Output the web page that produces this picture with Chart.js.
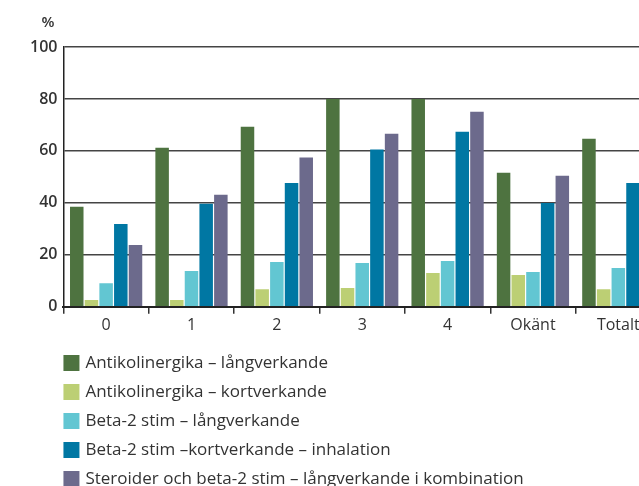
<!DOCTYPE html>
<html>
<head>
<meta charset="utf-8">
<script src="https://cdn.jsdelivr.net/npm/chart.js@4"></script>
<style>
html, body { margin:0; padding:0; background:#fff; overflow:hidden; }
#wrap { width:639px; height:486px; overflow:hidden; }
</style>
</head>
<body>
<div id="wrap"><canvas id="rel1" width="664" height="486"></canvas></div>
<script>
var categories = ['0', '1', '2', '3', '4', 'Okänt', 'Totalt'];
var series_names = [
  'Antikolinergika – långverkande',
  'Antikolinergika – kortverkande',
  'Beta-2 stim – långverkande',
  'Beta-2 stim –kortverkande – inhalation',
  'Steroider och beta-2 stim – långverkande i kombination'
];
var antikol_lang = [38.5, 61.2, 69.3, 80, 80, 51.6, 64.7];
var antikol_kort = [2.6, 2.6, 6.8, 7.2, 13.0, 12.2, 6.8];
var beta_lang = [9.1, 13.8, 17.2, 16.9, 17.6, 13.4, 14.9];
var beta_kort = [31.9, 39.7, 47.7, 60.5, 67.4, 40.0, 47.7];
var steroid_komb = [23.8, 43.1, 57.5, 66.6, 75.1, 50.4, 55];
var colors = ['#4e7340', '#bccf74', '#62c6d2', '#0077a3', '#6c6a8c'];
var y_max = 100;
var y_step = 20;
var unit_label = '%';

var font_family = '"Open Sans", "Noto Sans", sans-serif';
var text_color = '#333';

// "%" above the y axis and the legend as a plain vertical list under the chart
var listLegend = {
  id: 'listLegend',
  afterDraw: function(chart) {
    var ctx = chart.ctx;
    var x = chart.chartArea.left;
    var top = chart.scales.x.bottom + 26;
    ctx.save();
    ctx.textBaseline = 'middle';
    ctx.textAlign = 'left';
    ctx.fillStyle = text_color;
    ctx.font = '600 15px ' + font_family;
    ctx.fillText(unit_label, x - 22, chart.chartArea.top - 24);
    ctx.font = '17px ' + font_family;
    chart.data.datasets.forEach(function(ds, i) {
      var y = top + i * 29;
      ctx.fillStyle = ds.backgroundColor;
      ctx.fillRect(x, y - 8, 16, 16);
      ctx.fillStyle = text_color;
      ctx.fillText(ds.label, x + 22, y);
    });
    ctx.restore();
  }
};

var all_series = [antikol_lang, antikol_kort, beta_lang, beta_kort, steroid_komb];

var rel1 = new Chart(document.getElementById('rel1'), {
  type: 'bar',
  data: {
    labels: categories,
    datasets: all_series.map(function(d, i) {
      return {
        label: series_names[i],
        data: d,
        backgroundColor: colors[i],
        borderWidth: 0,
        categoryPercentage: 0.86,
        barPercentage: 0.92
      };
    })
  },
  options: {
    responsive: false,
    animation: false,
    layout: { padding: { left: 24, top: 47, right: 3, bottom: 149 } },
    plugins: {
      legend: { display: false },
      tooltip: { enabled: false }
    },
    scales: {
      x: {
        grid: {
          drawOnChartArea: false,
          drawTicks: true,
          tickLength: 7,
          color: '#333',
          lineWidth: 1.5
        },
        border: { color: '#222', width: 2 },
        ticks: { color: text_color, font: { family: font_family, size: 16, weight: '500' }, padding: 2 }
      },
      y: {
        min: 0,
        max: y_max,
        ticks: { stepSize: y_step, color: text_color, font: { family: font_family, size: 16, weight: '600' }, padding: 6 },
        grid: { color: '#444', lineWidth: 1.5, drawTicks: false },
        border: { color: '#222', width: 1.5 }
      }
    }
  },
  plugins: [listLegend]
});
</script>
</body>
</html>
